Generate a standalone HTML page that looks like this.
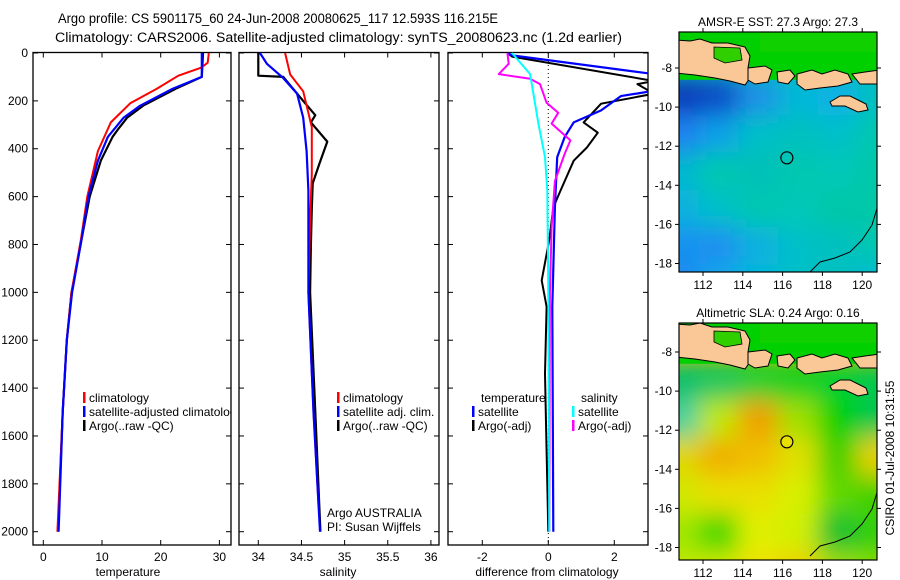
<!DOCTYPE html>
<html><head><meta charset="utf-8"><style>
html,body{margin:0;padding:0;background:#fff;}
svg{display:block;font-family:"Liberation Sans",sans-serif;}
text{font-size:12px;fill:#000;}
</style></head><body>
<svg id="fig" width="900" height="580" viewBox="0 0 900 580">
<defs>
<clipPath id="c1"><rect x="33" y="52.5" width="198" height="492.5"/></clipPath>
<clipPath id="c2"><rect x="239" y="52.5" width="200" height="492.5"/></clipPath>
<clipPath id="c3"><rect x="448" y="52.5" width="200" height="492.5"/></clipPath>
<clipPath id="cm1"><rect x="679" y="32" width="198" height="240"/></clipPath>
<clipPath id="cm2"><rect x="679" y="323" width="198" height="237"/></clipPath>
<filter id="blur" x="-10%" y="-10%" width="120%" height="120%"><feGaussianBlur stdDeviation="12"/></filter>
</defs>
<text x="58" y="23" textLength="440" lengthAdjust="spacingAndGlyphs" style="font-size:13.5px">Argo profile: CS 5901175_60 24-Jun-2008 20080625_117 12.593S 116.215E</text>
<text x="55" y="42" textLength="567" lengthAdjust="spacingAndGlyphs" style="font-size:13.5px">Climatology: CARS2006. Satellite-adjusted climatology: synTS_20080623.nc (1.2d earlier)</text>
<g id="g"></g>
</svg>
<script>
// ---- data ----
const tempClimDepth=[0,40,60,95,150,210,290,410,600,780,1000,1200,1500,2000];
const tempClim=[28.2,28,27,23,19.3,14.8,11.5,9.3,7.5,6.4,4.8,4.0,3.3,2.4];
const tempSatDepth=[0,100,150,220,270,350,450,600,780,1000,1200,1500,2000];
const tempSat=[27.0,27.0,22,16.5,13.7,11,9.3,7.7,6.5,4.9,4.0,3.3,2.6];
const tempArgoDepth=[0,100,150,220,270,320,350,450,600,780,1000,1200,1500,2000];
const tempArgo=[27.2,27.0,22.5,17,14.3,12.7,11.8,9.8,7.9,6.5,4.8,4.0,3.3,2.5];
const salClimDepth=[0,90,160,310,505,700,1000,1500,1900];
const salClim=[34.31,34.37,34.52,34.62,34.62,34.6,34.58,34.64,34.7];
const salSatDepth=[0,45,105,170,270,410,575,800,1000,1500,2000];
const salSat=[34.02,34.1,34.29,34.45,34.52,34.56,34.58,34.58,34.58,34.64,34.715];
const salArgoDepth=[0,95,100,200,260,290,370,460,545,650,800,1000,1500,2000];
const salArgo=[34.0,34.0,34.29,34.52,34.66,34.61,34.8,34.71,34.63,34.62,34.61,34.6,34.66,34.72];
const dTSatDepth=[0,10,88,158,180,240,290,350,435,645,1060,2000];
const dTSat=[-1.24,-1.1,3.2,3.2,2.2,1.6,0.77,0.5,0.27,0.2,0.12,0.15];
const dTArgoDepth=[0,15,117,130,170,212,290,333,395,450,575,645,780,950,1060,1340,1545,2000];
const dTArgo=[-1.24,-1.1,3.2,2.7,3.2,1.6,1.07,1.5,1.17,0.77,0.37,0.15,0.03,-0.2,-0.05,-0.1,-0.07,0.0];
const dSSatDepth=[0,88,170,295,435,575,1000,2000];
const dSSat=[-1.1,-0.55,-0.45,-0.3,-0.1,-0.03,0,0.03];
const dSArgoDepth=[0,45,88,108,130,208,250,295,365,420,535,730,1000,2000];
const dSArgo=[-1.24,-1.2,-1.5,-0.55,-0.25,-0.05,0.3,0.1,0.67,0.5,0.2,0.1,0.05,0.03];
const depthTicks=[0,200,400,600,800,1000,1200,1400,1600,1800,2000];
const tempTicks=[0,10,20,30];
const salTicks=[34,34.5,35,35.5,36];
const diffTicks=[-2,0,2];
const lonTicks=[112,114,116,118,120];
const latTicks=[-8,-10,-12,-14,-16,-18];
const sstGrid=[
["#0838b8","#1048c8","#1a90e8","#00b8d8","#10b0e8","#00c0c0"],
["#1a80f0","#10a0e8","#00c0c8","#00c0c0","#00c0c8","#00c8b0"],
["#00b8d0","#00c8b0","#00c0b8","#00c8b0","#00c8b8","#00c8a8"],
["#10b0e0","#00c0c8","#00c8b0","#00c8b8","#00c8a8","#00c8a8"],
["#1890f0","#1a90f0","#10b0e0","#00c0c8","#00c0c0","#00c8b0"],
["#1a88f0","#10a8e8","#00b8d8","#00c0c8","#00c0c0","#00b8d8"]];
const slaGrid=[
["#00c070","#00c860","#00d030","#00d020","#00d030","#00c850"],
["#40d0a0","#c0e800","#f0a000","#a0e000","#00d000","#00c850"],
["#e0d800","#f0b000","#f0c000","#e0e000","#40d000","#e8d000"],
["#d0e800","#e8e000","#e8e000","#d8f000","#60d800","#40d000"],
["#a0e800","#40d800","#e0f000","#d0f000","#10c030","#30d000"],
["#c0e800","#d0e800","#f0e000","#f0d000","#a0e000","#80e000"]];
// ---- helpers ----
const NS="http://www.w3.org/2000/svg";
const G=document.getElementById('g');
function el(tag,attrs,parent,txt){const e=document.createElementNS(NS,tag);for(const k in attrs)e.setAttribute(k,attrs[k]);if(txt!==undefined)e.textContent=txt;(parent||G).appendChild(e);return e;}
const Y0=53, PXD=478.7/2000;
function yD(d){return Y0+d*PXD;}
const panels=[
 {x0:33,x1:231,clip:'c1',sx:v=>43.3+v*5.87,ticks:tempTicks,label:'temperature',lx:128,name:'temperature'},
 {x0:239,x1:439,clip:'c2',sx:v=>258.3+(v-34)*86.3,ticks:salTicks,label:'salinity',lx:338,name:'salinity'},
 {x0:448,x1:648,clip:'c3',sx:v=>548.3+v*33,ticks:diffTicks,label:'difference from climatology',lx:547,name:'difference'}];
panels.forEach((p,i)=>{
 const r=el('rect',{x:p.x0,y:52.5,width:p.x1-p.x0,height:492.5,fill:'none',stroke:'#000','stroke-width':1.3});
 
 
 p.ticks.forEach(t=>{const x=p.sx(t);
  el('line',{x1:x,x2:x,y1:545,y2:540,stroke:'#000'});el('line',{x1:x,x2:x,y1:52.5,y2:57.5,stroke:'#000'});
  const tl=el('text',{x:x,y:561,'text-anchor':'middle'},G,String(t));
  
  });
 depthTicks.forEach(d=>{const y=yD(d);
  el('line',{x1:p.x0,x2:p.x0+5,y1:y,y2:y,stroke:'#000'});el('line',{x1:p.x1,x2:p.x1-5,y1:y,y2:y,stroke:'#000'});
  if(i===0){const tl=el('text',{x:28,y:y+4,'text-anchor':'end'},G,String(d));
   
   }});
 const al=el('text',{x:p.lx,y:576,'text-anchor':'middle'},G,p.label);
 
 
});
const zl=el('line',{x1:548.3,x2:548.3,y1:53,y2:545,stroke:'#000','stroke-dasharray':'1,3'});


function series(p,depths,vals,color,name,w){
 const pts=depths.map((d,k)=>p.sx(vals[k]).toFixed(1)+','+yD(d).toFixed(1)).join(' ');
 const pl=el('polyline',{points:pts,fill:'none',stroke:color,'stroke-width':w||2,'clip-path':'url(#'+p.clip+')','stroke-linejoin':'round'});
 
 
}
series(panels[0],tempArgoDepth,tempArgo,'#000','temp-argo-line',2.2);
series(panels[0],tempClimDepth,tempClim,'#f00','temp-climatology-line',2);
series(panels[0],tempSatDepth,tempSat,'#00f','temp-satellite-line',2.2);
series(panels[1],salArgoDepth,salArgo,'#000','sal-argo-line',2.2);
series(panels[1],salClimDepth,salClim,'#f00','sal-climatology-line',2);
series(panels[1],salSatDepth,salSat,'#00f','sal-satellite-line',2.2);
series(panels[2],dTArgoDepth,dTArgo,'#000','diff-temp-argo-line',2);
series(panels[2],dTSatDepth,dTSat,'#00f','diff-temp-satellite-line',2.2);
series(panels[2],dSArgoDepth,dSArgo,'#f0f','diff-sal-argo-line',2);
series(panels[2],dSSatDepth,dSSat,'#0ff','diff-sal-satellite-line',2);
function legend(x,y,color,label,name){
 if(color){const m=el('rect',{x:x,y:y-10,width:2.5,height:11,fill:color});
  
  }
 const t=el('text',{x:x+6,y:y},G,label);
 
 
 return t;
}
const lt=[['#f00','climatology'],['#00f','satellite-adjusted climatology'],['#000','Argo(..raw -QC)']];
lt.forEach((l,k)=>{const t=legend(83,402+k*14,l[0],l[1],'temp-legend-entry');if(k===1){t.setAttribute('clip-path','url(#c1)');}});
const ls=[['#f00','climatology'],['#00f','satellite adj. clim.'],['#000','Argo(..raw -QC)']];
ls.forEach((l,k)=>legend(337,402+k*14,l[0],l[1],'sal-legend-entry'));
legend(321,517,null,'Argo AUSTRALIA','argo-australia-note');
legend(321,531,null,'PI: Susan Wijffels','pi-note');
legend(475,402,null,'temperature','diff-legend-temperature-header');
legend(472,416,'#00f','satellite','diff-legend-temp-satellite');
legend(472,430,'#000','Argo(-adj)','diff-legend-temp-argo');
legend(575,402,null,'salinity','diff-legend-salinity-header');
legend(572,416,'#0ff','satellite','diff-legend-sal-satellite');
legend(572,430,'#f0f','Argo(-adj)','diff-legend-sal-argo');
// ---- maps ----
function map(top,bottom,latm8,grid,clip,title,name,circleFill){
 const lon=v=>703+(v-112)*19.9, lat=v=>latm8+(-8-v)*19.55;
 const g=el('g',{'clip-path':'url(#'+clip+')'});
 
 
 el('rect',{x:679,y:top,width:198,height:bottom-top,fill:grid[2][2]},g);
 const hg=el('g',{filter:'url(#blur)'},g);
 const lat0=lat(-8.5), ch=(bottom+30-lat0)/grid.length, cw=(198+40)/grid[0].length;
 grid.forEach((row,r)=>row.forEach((c,k)=>{
  const cell=el('rect',{x:659+k*cw,y:lat0+r*ch,width:cw+1,height:ch+1,fill:c},hg);
  
  }));
 const dy=latm8-68;
 el('rect',{x:679,y:top,width:198,height:lat0-top+2,fill:'#00d000'},g);
 el('rect',{x:760,y:top,width:117,height:20,fill:'#10d000'},g);
 const L='#f9c896', S='#000';
 const polys=[
  [[676,40],[690,41],[700,39],[712,43],[728,43],[745,47],[750,56],[748,68],[750,78],[745,85],[730,81],[715,78],[695,75],[676,73]],
  [[748,68],[765,66],[772,70],[768,82],[755,84],[748,80]],
  [[777,72],[790,70],[795,76],[788,84],[778,82]],
  [[797,74],[812,70],[822,74],[835,70],[848,74],[852,82],[838,86],[820,88],[805,90],[797,84]],
  [[852,74],[865,72],[880,70],[880,84],[860,84]],
  [[830,102],[840,96],[850,96],[858,100],[866,104],[868,110],[858,112],[845,106],[832,106]]];
 polys.forEach(pg=>{const pl=el('polygon',{points:pg.map(q=>q[0]+','+(q[1]+dy)).join(' '),fill:L,stroke:S,'stroke-width':1},g);
  
  });
 el('polygon',{points:[[714,47],[740,48],[742,60],[725,63],[714,58]].map(q=>q[0]+','+(q[1]+dy)).join(' '),fill:'#30d000',stroke:'#000','stroke-width':0.8},g);
 el('polyline',{points:[[878,205],[872,225],[862,240],[850,252],[835,258],[820,262],[810,272]].map(q=>q[0]+','+(q[1]+dy)).join(' '),fill:'none',stroke:'#000','stroke-width':1},g);
 const c=el('circle',{cx:lon(116.215),cy:lat(-12.593),r:6,fill:circleFill,stroke:'#000','stroke-width':1.2},g);
 
 
 el('rect',{x:679,y:top,width:198,height:bottom-top,fill:'none',stroke:'#000','stroke-width':1.2});
 lonTicks.forEach(v=>{const x=lon(v);el('line',{x1:x,x2:x,y1:bottom,y2:bottom+4,stroke:'#000'});el('line',{x1:x,x2:x,y1:top,y2:top-4,stroke:'#000'});
  const t=el('text',{x:x,y:bottom+17,'text-anchor':'middle'},G,String(v));
  
  });
 latTicks.forEach(v=>{const y=lat(v);el('line',{x1:679,x2:675,y1:y,y2:y,stroke:'#000'});el('line',{x1:877,x2:881,y1:y,y2:y,stroke:'#000'});
  const t=el('text',{x:672,y:y+4,'text-anchor':'end'},G,String(v));
  
  });
 const tt=el('text',{x:778,y:top-6,'text-anchor':'middle'},G,title);
 
 
}
map(32,272,68,sstGrid,'cm1','AMSR-E SST: 27.3 Argo: 27.3','sst','none');
map(323,560,352,slaGrid,'cm2','Altimetric SLA: 0.24 Argo: 0.16','sla','#e8e000');
const cs=el('text',{x:0,y:0,'text-anchor':'middle',transform:'translate(894,458) rotate(-90)'},G,'CSIRO 01-Jul-2008 10:31:55');


</script>
</body></html>
